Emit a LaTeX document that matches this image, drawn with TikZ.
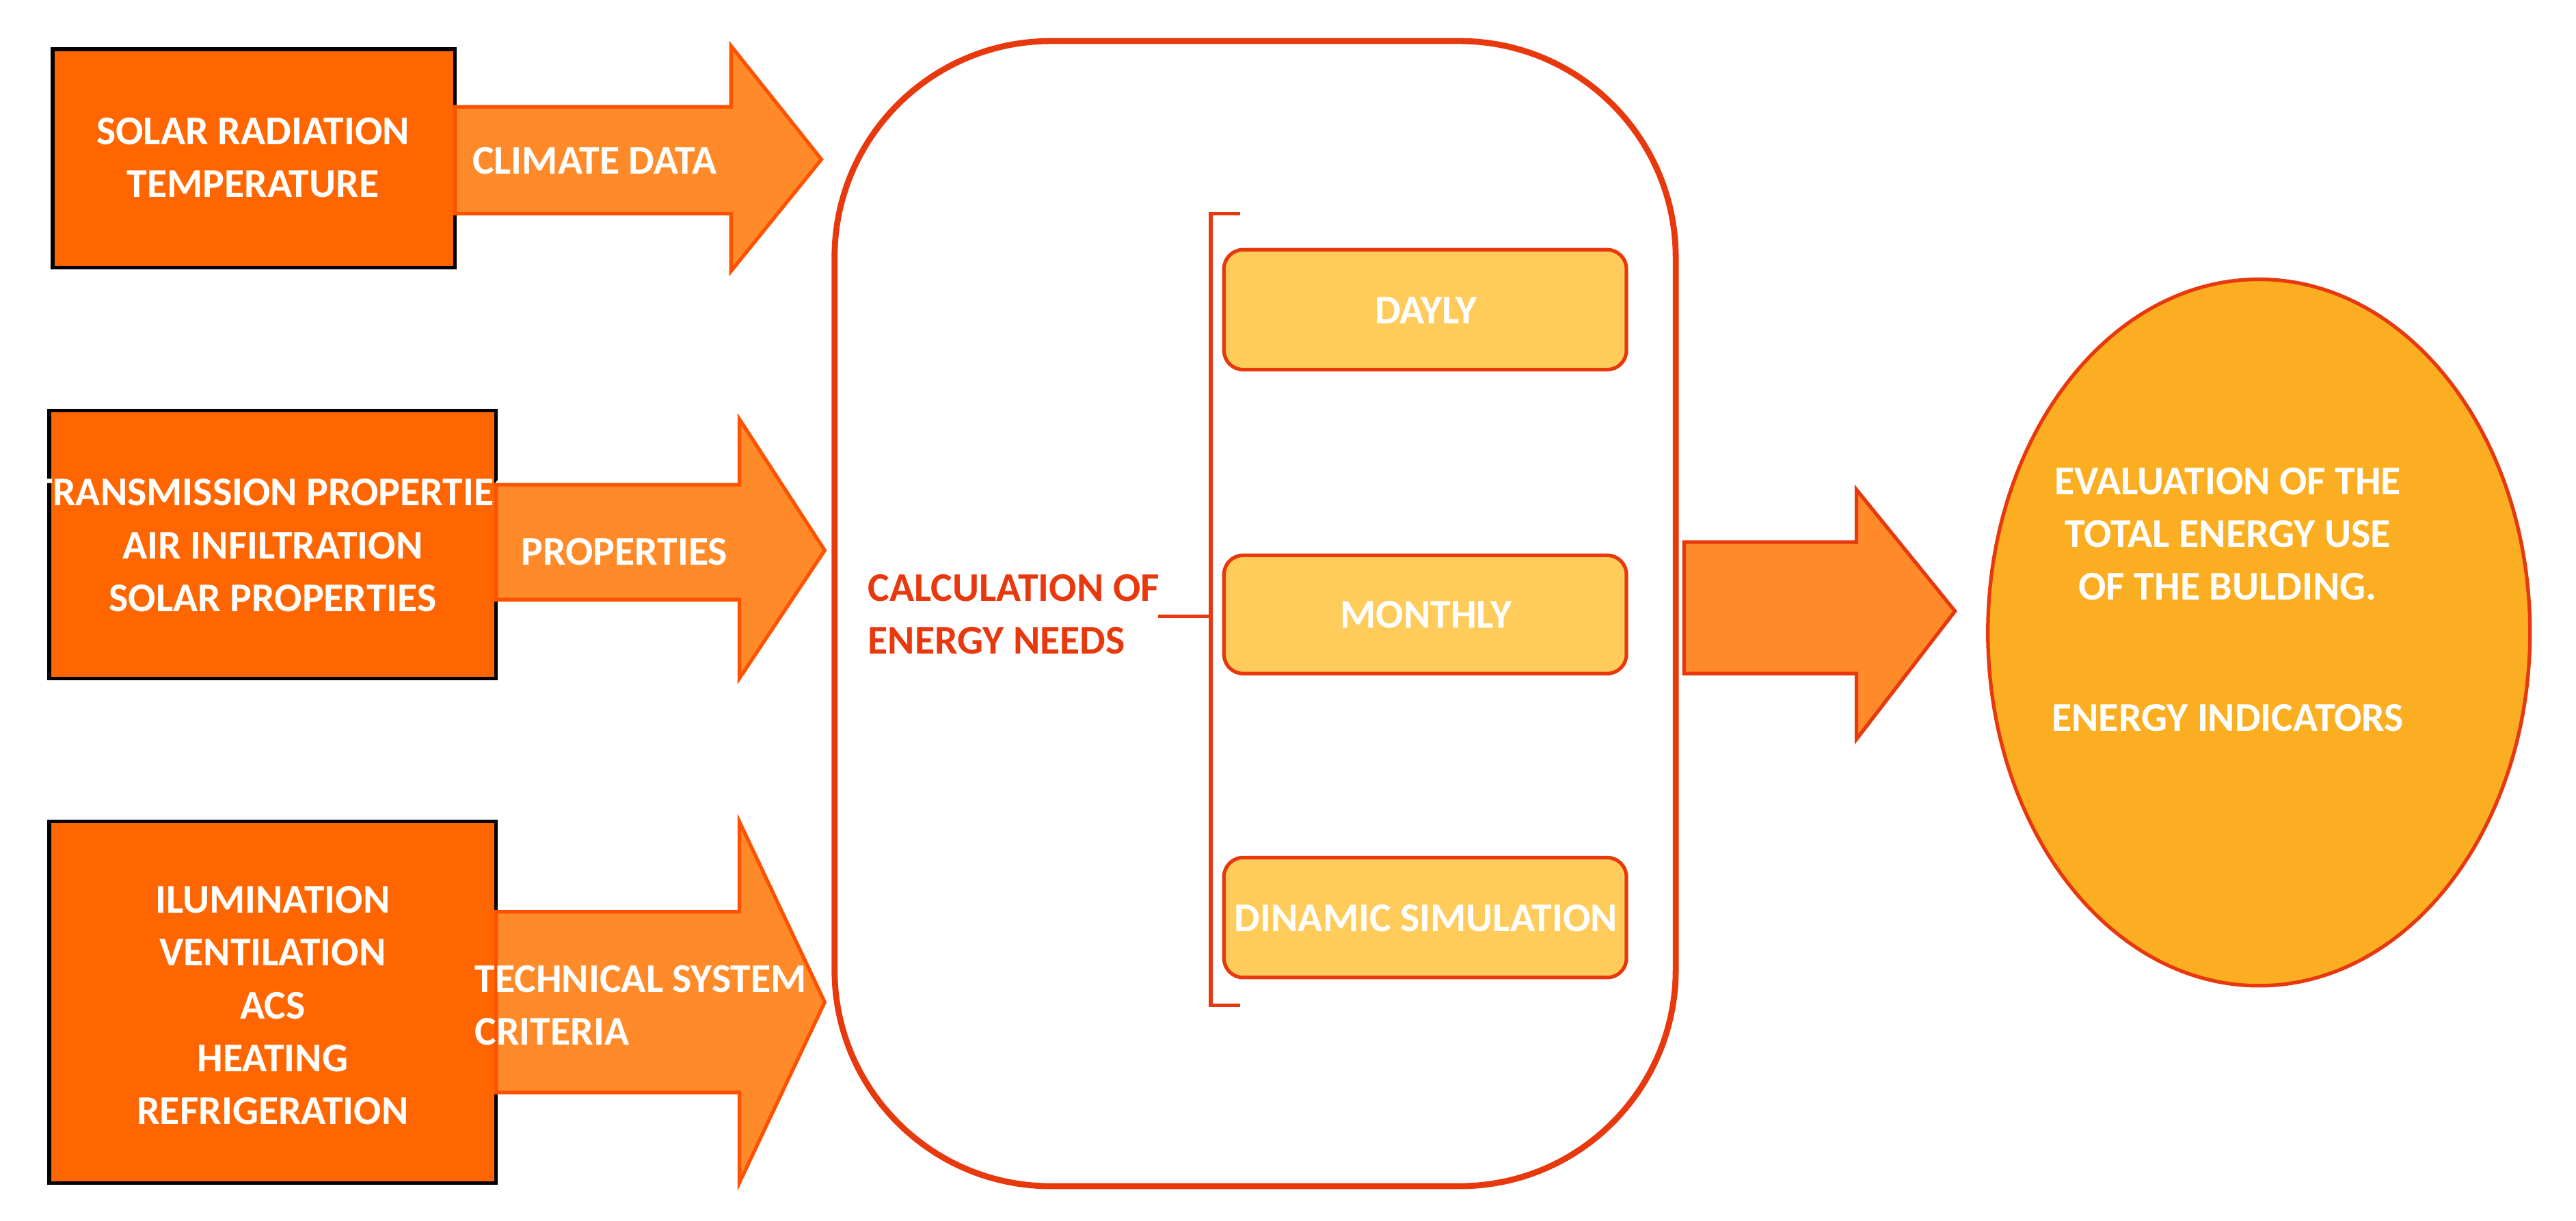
\documentclass[tikz,border=0pt]{standalone}
\usepackage{fontspec}
\setmainfont{Carlito}
\usetikzlibrary{decorations.pathreplacing}
\definecolor{dorange}{HTML}{FF6600}
\definecolor{morange}{HTML}{FF8A2A}
\definecolor{redb}{HTML}{E8380D}
\definecolor{lyel}{HTML}{FFCC5C}
\definecolor{corange}{HTML}{FBAE22}
\begin{document}
\begin{tikzpicture}[x=0.02403cm,y=-0.02403cm,
  txt/.style={font=\fontsize{17}{22}\selectfont\bfseries,text=white,align=center},
  src/.style={draw=black,line width=1.5pt,fill=dorange},
  arr/.style={draw=dorange!80!red,line width=1.5pt,fill=morange},
  sub/.style={draw=redb,line width=1.5pt,fill=lyel,rounded corners=8pt}]
\useasboundingbox (0,0) rectangle (1568,743);
% sources
\draw[src] (32,30) rectangle (277,163);
\node[txt] (s1) at (154,96) {SOLAR RADIATION\\TEMPERATURE};
\draw[src] (30,250) rectangle (302,413);
\node[txt] (s2) at (166,332) {TRANSMISSION PROPERTIES\\AIR INFILTRATION\\SOLAR PROPERTIES};
\draw[src] (30,500) rectangle (302,720);
\node[txt,align=center] (s3) at (166,612) {ILUMINATION\\VENTILATION\\ACS\\HEATING\\REFRIGERATION};
% arrows
\draw[arr] (277,65) -- (445,65) -- (445,28) -- (500,97) -- (445,165) -- (445,130) -- (277,130) -- cycle;
\node[txt] (a1) at (362,98) {CLIMATE DATA};
\draw[arr] (302,295) -- (450,295) -- (450,255) -- (502,335) -- (450,413) -- (450,365) -- (302,365) -- cycle;
\node[txt] (a2) at (380,336) {PROPERTIES};
\draw[arr] (302,555) -- (450,555) -- (450,500) -- (502,610) -- (450,720) -- (450,665) -- (302,665) -- cycle;
\node[txt,align=left] (a3) at (390,612) {TECHNICAL SYSTEM\\CRITERIA};
% central
\draw[redb,line width=2.5pt,rounded corners=90] (508,25) rectangle (1020,722);
\node[font=\fontsize{17}{22}\selectfont\bfseries,text=redb,align=left] (calc) at (617,374) {CALCULATION OF\\ENERGY NEEDS};
\draw[redb,line width=1.5pt] (755,130) -- (737,130) -- (737,612) -- (755,612);
\draw[redb,line width=1.5pt] (737,375) -- (705,375);
\draw[sub] (745,152) rectangle (990,225);
\node[txt] (d) at (868,189) {DAYLY};
\draw[sub] (745,338) rectangle (990,410);
\node[txt] (m) at (868,374) {MONTHLY};
\draw[sub] (745,522) rectangle (990,595);
\node[txt] (ds) at (868,559) {DINAMIC SIMULATION};
% big arrow
\draw[draw=redb,line width=1.5pt,fill=morange] (1025,330) -- (1130,330) -- (1130,298) -- (1190,372) -- (1130,450) -- (1130,410) -- (1025,410) -- cycle;
% ellipse
\draw[draw=redb,line width=1.5pt,fill=corange] (1375,385) ellipse (165 and 215);
\node[txt] (e1) at (1356,325) {EVALUATION OF THE\\TOTAL ENERGY USE\\OF THE BULDING.};
\node[txt] (e2) at (1356,437) {ENERGY INDICATORS};
\end{tikzpicture}
\end{document}
